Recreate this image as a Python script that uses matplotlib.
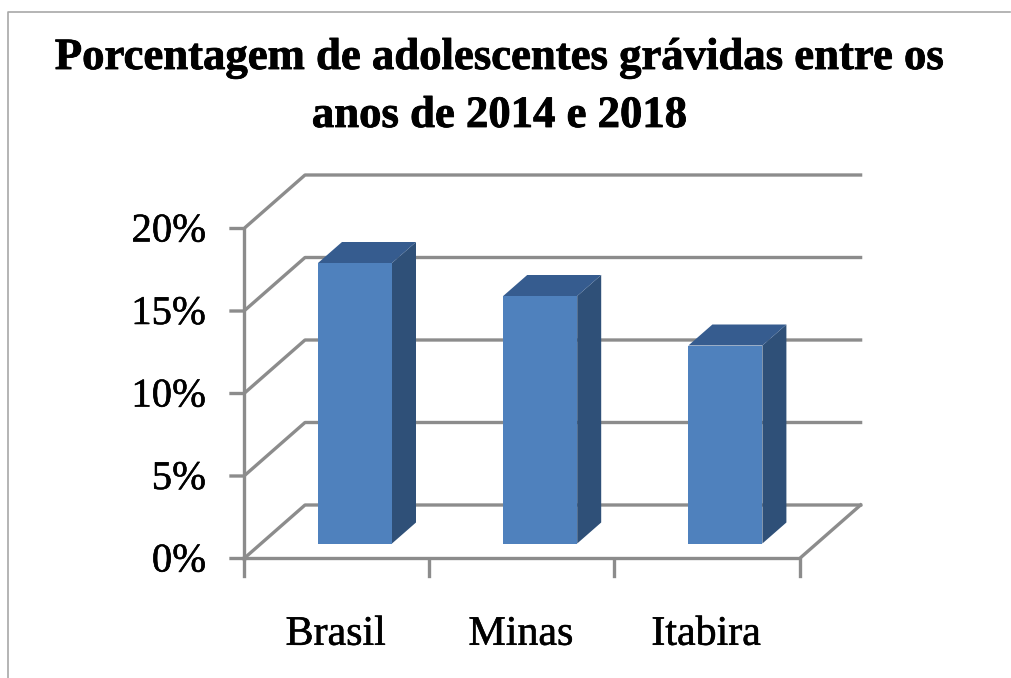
import matplotlib
matplotlib.use('Agg')
import matplotlib.pyplot as plt
from matplotlib.patches import Polygon, Rectangle
import matplotlib.patheffects as pe

categories = ['Brasil', 'Minas', 'Itabira']
values = [17, 15, 12]
yticks = [0, 5, 10, 15, 20]
titulo = 'Porcentagem de adolescentes grávidas entre os\nanos de 2014 e 2018'

W, H = 1011, 678
# pixel scale of the front plane
x0, y0 = 244, 558.5
px_cat, px_pct = 185.2, 16.5
# wall depth and bar placement, in data units
depth_x, depth_y = 61 / px_cat, 53.5 / px_pct
bar_w = 74 / px_cat
bar_left = 74 / px_cat
bar_dx, bar_dy = 24 / px_cat, 21 / px_pct
base = 15 / px_pct

GRID = '#8c8c8c'
FRONT = '#4f81bd'
SIDE = '#2f5078'
TOP = '#365c8f'

plt.rcParams['font.family'] = ['Liberation Serif', 'DejaVu Serif']
fig = plt.figure(figsize=(W / 100, H / 100), dpi=100)
ax = fig.add_axes([0, 0, 1, 1])
ax.set_xlim(-x0 / px_cat, (W - x0) / px_cat)
ax.set_ylim(-(H - y0) / px_pct, y0 / px_pct)
ax.axis('off')

n = len(categories)
# gridlines: y tick, left wall diagonal, then back wall
for t in yticks:
    ax.plot([-13 / px_cat, 0, depth_x, n + depth_x], [t, t, t + depth_y, t + depth_y], color=GRID, lw=2.4, zorder=1)
# floor front edge and right edge
ax.plot([0, n, n + depth_x], [0, 0, depth_y], color=GRID, lw=2.4, zorder=1)
# axes
ax.plot([0, 0], [0, yticks[-1]], color=GRID, lw=2.4, zorder=1)
for i in range(n + 1):
    ax.plot([i, i], [0, -17 / px_pct], color=GRID, lw=2.4, zorder=1)

for t in yticks:
    ax.text(-38 / px_cat, t - 3.5 / px_pct, '%d%%' % t, ha='right', va='center', fontsize=29.3, color='black',
            path_effects=[pe.withStroke(linewidth=0.4, foreground='black')])

for i, (c, v) in enumerate(zip(categories, values)):
    l = i + bar_left
    r = l + bar_w
    top = base + v
    ax.add_patch(Polygon([(r, base), (r + bar_dx, base + bar_dy), (r + bar_dx, top + bar_dy), (r, top)], color=SIDE, zorder=3, lw=0))
    ax.add_patch(Polygon([(l, top), (l + bar_dx, top + bar_dy), (r + bar_dx, top + bar_dy), (r, top)], color=TOP, zorder=3, lw=0))
    ax.add_patch(Rectangle((l, base), bar_w, v, color=FRONT, zorder=4, lw=0))
    ax.text(i + 0.495, -76 / px_pct, c, ha='center', va='center', fontsize=30.2, color='black',
            path_effects=[pe.withStroke(linewidth=0.4, foreground='black')])

ax.text((500 - x0) / px_cat, (y0 - 87) / px_pct, titulo, ha='center', va='center', fontsize=32.2,
        fontweight='bold', color='black', linespacing=1.58,
        path_effects=[pe.withStroke(linewidth=0.6, foreground='black')])

# outer frame of the picture
ax.plot([(8 - x0) / px_cat, (8 - x0) / px_cat, (W - 1 - x0) / px_cat],
        [-(H - y0) / px_pct, (y0 - 12) / px_pct, (y0 - 12) / px_pct], color='#a8a8a8', lw=1.2)

fig.savefig('out.png', dpi=100)
